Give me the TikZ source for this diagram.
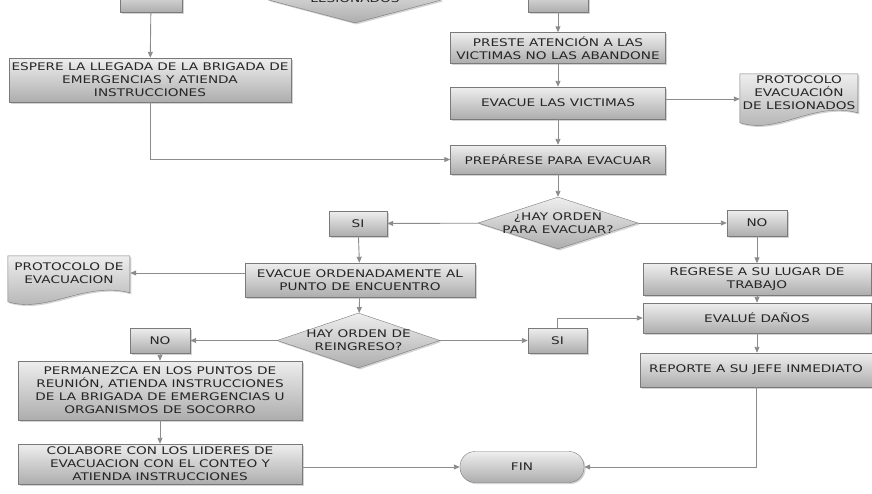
\documentclass[tikz,border=0pt]{standalone}
\usepackage{fontspec}
\setmainfont{DejaVu Sans}[FakeStretch=1.3]
\usetikzlibrary{shapes.geometric,shadows,arrows.meta,backgrounds}

\definecolor{linea}{HTML}{8C8C8C}
\definecolor{borde}{HTML}{7A7A7A}
\definecolor{claro}{HTML}{EEEEEE}
\definecolor{oscuro}{HTML}{ADADAD}

\tikzset{
  sombra/.style={drop shadow={shadow xshift=1.5pt,shadow yshift=-1.5pt,opacity=0.35}},
  caja/.style={draw=borde, top color=claro, bottom color=oscuro, sombra,
    align=center, inner sep=1pt, text=black!85,
    font=\fontsize{10.5}{13}\selectfont},
  rombo/.style={caja, diamond, inner sep=0pt},
  doc/.style={align=center, inner sep=1pt, text=black!85,
    font=\fontsize{10.5}{13}\selectfont},
  flecha/.style={draw=linea, line width=0.9pt, -{Triangle[length=6pt,width=5pt]}}
}

\begin{document}
\begin{tikzpicture}[x=1pt,y=-1pt]
        \useasboundingbox (0,0) rectangle (872,493);
        \clip (0,0) rectangle (872,493);

        % cajas cortadas arriba
        \node[caja, minimum width=62, minimum height=24] (arribaA) at (151,0) {};
        \node[rombo, minimum width=173, minimum height=46] (arribaB) at (355,0) {};
        \node[doc] at (355,-1.5) {LESIONADOS};
        \node[caja, minimum width=60, minimum height=24] (arribaC) at (558,0) {};

        % columna izquierda
        \node[caja, minimum width=282, minimum height=44] (espere) at (150,80)
            {ESPERE LA LLEGADA DE LA BRIGADA DE\\EMERGENCIAS Y ATIENDA\\INSTRUCCIONES};

        % columna central
        \node[caja, minimum width=215, minimum height=31] (preste) at (558,48)
            {PRESTE ATENCIÓN A LAS\\VICTIMAS NO LAS ABANDONE};
        \node[caja, minimum width=215, minimum height=32] (evacue) at (558,103) {EVACUE LAS VICTIMAS};
        \node[doc, minimum width=118, minimum height=38] (protA) at (799,93)
            {PROTOCOLO\\EVACUACIÓN\\DE LESIONADOS};
        \node[caja, minimum width=215, minimum height=29] (prepare) at (558,159.5) {PREPÁRESE PARA EVACUAR};
        \node[rombo, minimum width=160, minimum height=52] (ordenA) at (558,223) {};
        \node[doc] at (558,223) {¿HAY ORDEN\\PARA EVACUAR?};

        \node[caja, minimum width=58, minimum height=25] (siA) at (358,223.5) {SI};
        \node[caja, minimum width=60, minimum height=26] (noA) at (757,223) {NO};

        \node[caja, minimum width=230, minimum height=34] (ordenado) at (360,280)
            {EVACUE ORDENADAMENTE AL\\PUNTO DE ENCUENTRO};
        \node[doc, minimum width=122, minimum height=34] (protB) at (69,273)
            {PROTOCOLO DE\\EVACUACION};
        \node[rombo, minimum width=163, minimum height=55] (ordenB) at (358.5,340.5) {};
        \node[doc] at (358.5,340.5) {HAY ORDEN DE\\REINGRESO?};

        \node[caja, minimum width=60, minimum height=25] (noB) at (160,340.5) {NO};
        \node[caja, minimum width=59, minimum height=25] (siB) at (557.5,340.5) {SI};

        \node[caja, minimum width=284, minimum height=59] (permanezca) at (160,390.5)
            {PERMANEZCA EN LOS PUNTOS DE\\REUNIÓN, ATIENDA INSTRUCCIONES\\DE LA BRIGADA DE EMERGENCIAS U\\ORGANISMOS DE SOCORRO};
        \node[caja, minimum width=284, minimum height=40] (colabore) at (160,464)
            {COLABORE CON LOS LIDERES DE\\EVACUACION CON EL CONTEO Y\\ATIENDA INSTRUCCIONES};

        % columna derecha
        \node[caja, minimum width=228, minimum height=32] (regrese) at (757,279.5)
            {REGRESE A SU LUGAR DE\\TRABAJO};
        \node[caja, minimum width=228, minimum height=30] (evalue) at (757,318) {EVALUÉ DAÑOS};
        \node[caja, minimum width=232, minimum height=34] (reporte) at (756,370) {REPORTE A SU JEFE INMEDIATO};

        \node[caja, rounded corners=15pt, minimum width=124, minimum height=31] (fin) at (522,467) {FIN};

        % documentos con borde ondulado
        \begin{scope}[on background layer]
        \draw[draw=borde, top color=claro, bottom color=oscuro, sombra]
            (protA.north west) -- ++(118,0) -- ++(0,39)
            .. controls +(-45,-12) and +(40,12) .. ++(-118,10) -- cycle;
        \draw[draw=borde, top color=claro, bottom color=oscuro, sombra]
            (protB.north west) -- ++(122,0) -- ++(0,37)
            .. controls +(-45,-12) and +(40,12) .. ++(-122,9) -- cycle;
        \end{scope}

        % conectores
        \draw[flecha] (arribaA) -- (espere);
        \draw[flecha] (arribaC) -- (preste);
        \draw[flecha] (espere.south) |- (prepare.west);
        \draw[flecha] (preste) -- (evacue);
        \draw[flecha] ([yshift=4pt]evacue.east) -- ([yshift=4pt]evacue.east -| protA.west);
        \draw[flecha] (evacue) -- (prepare);
        \draw[flecha] (prepare) -- (ordenA);
        \draw[flecha] (ordenA) -- (siA);
        \draw[flecha] (ordenA) -- (noA);
        \draw[flecha] (siA) -- (ordenado);
        \draw[flecha] (ordenado.west |- protB.east) -- (protB.east);
        \draw[flecha] (ordenado) -- (ordenB);
        \draw[flecha] (ordenB) -- (noB);
        \draw[flecha] (ordenB) -- (siB);
        \draw[flecha] (noB) -- (permanezca);
        \draw[flecha] (permanezca) -- (colabore);
        \draw[flecha] (colabore.east |- fin.west) -- (fin.west);
        \draw[flecha] (noA) -- (regrese);
        \draw[flecha] (regrese) -- (evalue);
        \draw[flecha] (evalue) -- (evalue |- reporte.north);
        \draw[flecha] (siB.north) |- (evalue.west);
        \draw[flecha] (reporte.south) |- (fin.east);
    \end{tikzpicture}
\end{document}
